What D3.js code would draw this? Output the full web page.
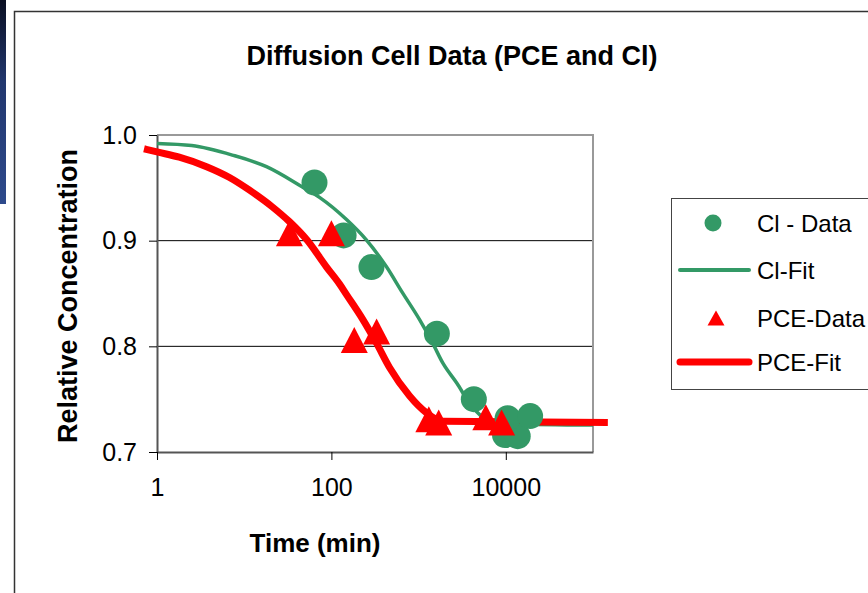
<!DOCTYPE html>
<html>
<head>
<meta charset="utf-8">
<script src="https://cdn.jsdelivr.net/npm/d3@7"></script>
<style>
  html, body { margin: 0; padding: 0; background: #fff; }
  svg { display: block; font-family: "Liberation Sans", Arial, sans-serif; }
</style>
</head>
<body>
<div id="chart"></div>
<script>
// measured data (time in min, relative concentration)
const clTime = [64, 138, 288, 1620, 4300, 9800, 13700, 10500, 19000];
const clConc = [0.955, 0.905, 0.875, 0.812, 0.750, 0.716, 0.715, 0.732, 0.734];

const pceTime = [33, 100, 183, 330, 1310, 1700, 5900, 8950];
const pceConc = [0.907, 0.907, 0.806, 0.814, 0.731, 0.728, 0.733, 0.728];

// fitted curves
const clFitTime = [1, 2.5, 7.3, 18, 46, 73, 149, 250, 430, 650, 1030, 1450, 1900, 2750, 3860, 5450, 9300, 100000];
const clFitConc = [0.992, 0.990, 0.981, 0.970, 0.951, 0.941, 0.920, 0.901, 0.875, 0.851, 0.825, 0.803, 0.784, 0.765, 0.746, 0.733, 0.727, 0.7255];

const pceFitTime = [0.71, 1, 1.8, 3.7, 6.7, 11.4, 21, 33, 52, 88, 124, 149, 227, 329, 464, 789, 1236, 1888, 148000];
const pceFitConc = [0.987, 0.984, 0.979, 0.970, 0.960, 0.948, 0.932, 0.918, 0.901, 0.875, 0.859, 0.849, 0.826, 0.803, 0.780, 0.753, 0.737, 0.729, 0.728];

const xTicks = [1, 100, 10000];
const yTicks = [0.7, 0.8, 0.9, 1.0];

const legendLabels = ["Cl - Data", "Cl-Fit", "PCE-Data", "PCE-Fit"];

const green = "#339966";
const red = "#ff0000";

const W = 868, H = 593;
const plot = { left: 157, top: 135, right: 593, bottom: 452 };

const svg = d3.select("#chart").append("svg")
  .attr("width", W)
  .attr("height", H);

// dark strip from the slide behind the chart
const grad = svg.append("defs").append("linearGradient")
  .attr("id", "strip").attr("x1", 0).attr("y1", 0).attr("x2", 0).attr("y2", 1);
grad.append("stop").attr("offset", "0%").attr("stop-color", "#0a0f22");
grad.append("stop").attr("offset", "40%").attr("stop-color", "#22376e");
grad.append("stop").attr("offset", "100%").attr("stop-color", "#2e4a8c");
svg.append("rect").attr("x", 0).attr("y", 0).attr("width", 6).attr("height", 204)
  .attr("fill", "url(#strip)");

// chart border
svg.append("rect")
  .attr("x", 14.5).attr("y", 11.5)
  .attr("width", W).attr("height", H)
  .attr("fill", "none").attr("stroke", "#333").attr("stroke-width", 1.5);

const x = d3.scaleLog().domain([1, 1e5]).range([plot.left, plot.right]);
const y = d3.scaleLinear().domain([0.7, 1.0]).range([plot.bottom, plot.top]);

// gridlines
svg.append("g")
  .selectAll("line")
  .data([0.8, 0.9])
  .enter().append("line")
  .attr("x1", plot.left).attr("x2", plot.right)
  .attr("y1", d => y(d)).attr("y2", d => y(d))
  .attr("stroke", "#000").attr("stroke-width", 1);

// top and right border of plot area
svg.append("path")
  .attr("d", `M${plot.left},${plot.top}H${plot.right}V${plot.bottom}`)
  .attr("fill", "none").attr("stroke", "#999").attr("stroke-width", 2);

// axes
const yAxis = d3.axisLeft(y).tickValues(yTicks).tickFormat(d3.format(".1f"))
  .tickSize(8).tickSizeOuter(0).tickPadding(12);
const gy = svg.append("g").attr("transform", `translate(${plot.left},0)`).call(yAxis);
gy.select(".domain").attr("stroke", "#555").attr("stroke-width", 2);
gy.selectAll(".tick line").attr("stroke", "#000");
gy.selectAll(".tick text")
  .attr("font-size", 25).attr("font-family", "Liberation Sans, Arial, sans-serif")
  .attr("fill", "#000");

const xAxis = d3.axisBottom(x).tickValues(xTicks).tickFormat(d3.format("d"))
  .tickSize(8).tickSizeOuter(0).tickPadding(18);
const gx = svg.append("g").attr("transform", `translate(0,${plot.bottom})`).call(xAxis);
gx.select(".domain").attr("stroke", "#555").attr("stroke-width", 2);
gx.selectAll(".tick line").attr("stroke", "#000");
gx.selectAll(".tick text")
  .attr("font-size", 25).attr("font-family", "Liberation Sans, Arial, sans-serif")
  .attr("fill", "#000");

// titles
svg.append("text")
  .attr("x", 452).attr("y", 65)
  .attr("text-anchor", "middle")
  .attr("font-size", 27).attr("font-weight", "bold")
  .text("Diffusion Cell Data (PCE and Cl)");

svg.append("text")
  .attr("transform", "translate(77,296) rotate(-90)")
  .attr("text-anchor", "middle")
  .attr("font-size", 27).attr("font-weight", "bold")
  .text("Relative Concentration");

svg.append("text")
  .attr("x", 315).attr("y", 552)
  .attr("text-anchor", "middle")
  .attr("font-size", 26).attr("font-weight", "bold")
  .text("Time (min)");

// fit lines
const line = d3.line()
  .x(d => x(d[0]))
  .y(d => y(d[1]))
  .curve(d3.curveMonotoneX);

svg.append("path")
  .datum(d3.zip(clFitTime, clFitConc))
  .attr("d", line)
  .attr("fill", "none").attr("stroke", green)
  .attr("stroke-width", 3.5).attr("stroke-linejoin", "round");

svg.append("path")
  .datum(d3.zip(pceFitTime, pceFitConc))
  .attr("d", line)
  .attr("fill", "none").attr("stroke", red)
  .attr("stroke-width", 7).attr("stroke-linejoin", "round");

// data markers
svg.append("g")
  .selectAll("circle")
  .data(d3.zip(clTime, clConc))
  .enter().append("circle")
  .attr("cx", d => x(d[0]))
  .attr("cy", d => y(d[1]))
  .attr("r", 13)
  .attr("fill", green);

const tri = (cx, cy, w, h) => `M${cx},${cy - h / 2}L${cx + w / 2},${cy + h / 2}L${cx - w / 2},${cy + h / 2}Z`;

svg.append("g")
  .selectAll("path")
  .data(d3.zip(pceTime, pceConc))
  .enter().append("path")
  .attr("d", d => tri(x(d[0]), y(d[1]), 27, 26))
  .attr("fill", red);

// legend
const lg = svg.append("g");
lg.append("rect")
  .attr("x", 671.5).attr("y", 198.5)
  .attr("width", 220).attr("height", 191)
  .attr("fill", "#fff").attr("stroke", "#444").attr("stroke-width", 1);

const rowY = [223, 270, 318, 362];
const sym = lg.selectAll("g.item")
  .data(legendLabels)
  .enter().append("g").attr("class", "item");

sym.append("text")
  .attr("x", 757)
  .attr("y", (d, i) => rowY[i] + 9)
  .attr("font-size", 24)
  .text(d => d);

lg.append("circle").attr("cx", 713).attr("cy", rowY[0]).attr("r", 8.5).attr("fill", green);
lg.append("line").attr("x1", 680).attr("x2", 749).attr("y1", rowY[1]).attr("y2", rowY[1])
  .attr("stroke", green).attr("stroke-width", 4).attr("stroke-linecap", "round");
lg.append("path").attr("d", tri(716, rowY[2], 17, 15)).attr("fill", red);
lg.append("line").attr("x1", 680).attr("x2", 749).attr("y1", rowY[3]).attr("y2", rowY[3])
  .attr("stroke", red).attr("stroke-width", 7).attr("stroke-linecap", "round");
</script>
</body>
</html>
